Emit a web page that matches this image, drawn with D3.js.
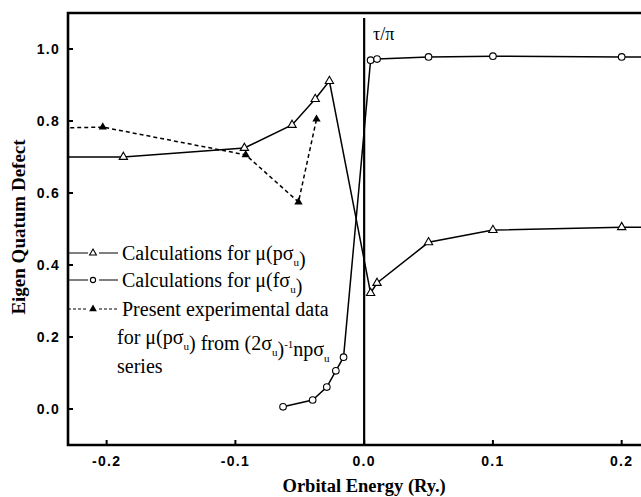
<!DOCTYPE html>
<meta charset="utf-8">
<html lang="en">
<head>
<meta charset="utf-8">
<title>Eigen Quantum Defect</title>
<script src="https://d3js.org/d3.v7.min.js"></script>
<style type="text/css">
body { margin: 0; background: #fff; }
.tick-label { font-family: "Liberation Sans", Arial, sans-serif; font-weight: bold; font-size: 14px; letter-spacing: 1.3px; }
text.serif { font-family: "Liberation Serif", "DejaVu Serif", "Times New Roman", serif; }
.frame { stroke: #000; stroke-width: 2.6px; fill: none; }
.series { fill: none; stroke: #000; stroke-width: 1.5px; }
</style>
</head>
<body>
<div id="chart"></div>
<script type="text/javascript">
"use strict";

// calculated mu(f sigma_u)
var fsigEnergy = [-0.063, -0.040, -0.029, -0.022, -0.016, 0.005, 0.010, 0.05, 0.1, 0.2, 0.3];
var fsigMu     = [0.006, 0.025, 0.061, 0.106, 0.144, 0.969, 0.972, 0.978, 0.980, 0.978, 0.978];

// calculated mu(p sigma_u)
var psigEnergy = [-0.25, -0.187, -0.093, -0.056, -0.038, -0.027, 0.005, 0.010, 0.05, 0.1, 0.2, 0.3];
var psigMu     = [0.70, 0.70, 0.725, 0.789, 0.861, 0.911, 0.322, 0.35, 0.463, 0.497, 0.505, 0.505];

// experimental mu(p sigma_u)
var expEnergy = [-0.25, -0.203, -0.092, -0.051, -0.037];
var expMu     = [0.78, 0.783, 0.706, 0.575, 0.805];

var xTicks = [-0.2, -0.1, 0.0, 0.1, 0.2];
var yTicks = [0.0, 0.2, 0.4, 0.6, 0.8, 1.0];

var width = 641, height = 497;
var pLeft = 68, pRight = 641, pTop = 13, pBottom = 445;

var x = d3.scaleLinear().domain([-0.23, 0.215]).range([pLeft, pRight]);
var y = d3.scaleLinear().domain([-0.1, 1.1]).range([pBottom, pTop]);

var svg = d3.select("#chart").append("svg")
    .attr("width", width)
    .attr("height", height);

svg.append("defs").append("clipPath").attr("id", "plot")
  .append("rect").attr("x", pLeft).attr("y", pTop)
  .attr("width", pRight - pLeft).attr("height", pBottom - pTop);

function zip(a, b) { return a.map(function(d, i) { return [d, b[i]]; }); }

var line = d3.line().x(function(d) { return x(d[0]); }).y(function(d) { return y(d[1]); });
var tri = d3.symbol().type(d3.symbolTriangle).size(30);

var g = svg.append("g").attr("clip-path", "url(#plot)");

// zero energy marker
g.append("line")
  .attr("x1", x(0)).attr("x2", x(0))
  .attr("y1", 18).attr("y2", pBottom)
  .attr("stroke", "#000").attr("stroke-width", 2.2);

g.append("path").datum(zip(expEnergy, expMu))
  .attr("class", "series").attr("stroke-dasharray", "4,3").attr("d", line);
g.append("path").datum(zip(psigEnergy, psigMu))
  .attr("class", "series").attr("d", line);
g.append("path").datum(zip(fsigEnergy, fsigMu))
  .attr("class", "series").attr("d", line);

g.selectAll(".exp").data(zip(expEnergy, expMu)).enter().append("path")
  .attr("transform", function(d) { return "translate(" + x(d[0]) + "," + y(d[1]) + ")"; })
  .attr("d", tri).attr("fill", "#000");
g.selectAll(".psig").data(zip(psigEnergy, psigMu)).enter().append("path")
  .attr("transform", function(d) { return "translate(" + x(d[0]) + "," + y(d[1]) + ")"; })
  .attr("d", tri).attr("fill", "#fff").attr("stroke", "#000").attr("stroke-width", 1.1);
g.selectAll(".fsig").data(zip(fsigEnergy, fsigMu)).enter().append("circle")
  .attr("cx", function(d) { return x(d[0]); })
  .attr("cy", function(d) { return y(d[1]); })
  .attr("r", 3.3).attr("fill", "#fff").attr("stroke", "#000").attr("stroke-width", 1.1);

// frame
svg.append("path").attr("class", "frame")
  .attr("d", "M" + (pRight + 5) + "," + pTop + "H" + pLeft + "V" + pBottom + "H" + (pRight + 5));

// ticks, pointing inward
svg.selectAll(".xt").data(xTicks).enter().append("line")
  .attr("x1", x).attr("x2", x).attr("y1", pBottom).attr("y2", pBottom - 5)
  .attr("stroke", "#000").attr("stroke-width", 2);
svg.selectAll(".xl").data(xTicks).enter().append("text")
  .attr("class", "tick-label").attr("x", x).attr("y", 466)
  .attr("text-anchor", "middle")
  .text(function(d) { return d3.format(".1f")(d).replace("−", "-"); });

svg.selectAll(".yt").data(yTicks).enter().append("line")
  .attr("x1", pLeft).attr("x2", pLeft + 5).attr("y1", y).attr("y2", y)
  .attr("stroke", "#000").attr("stroke-width", 2);
svg.selectAll(".yl").data(yTicks).enter().append("text")
  .attr("class", "tick-label").attr("x", 60).attr("y", function(d) { return y(d) + 5; })
  .attr("text-anchor", "end")
  .text(function(d) { return d3.format(".1f")(d); });

// axis titles
svg.append("text").attr("class", "serif")
  .attr("x", x(0)).attr("y", 492).attr("text-anchor", "middle")
  .attr("font-size", 18.5).attr("font-weight", "bold")
  .text("Orbital Energy (Ry.)");
svg.append("text").attr("class", "serif")
  .attr("transform", "translate(25,227) rotate(-90)").attr("text-anchor", "middle")
  .attr("font-size", 19).attr("font-weight", "bold")
  .text("Eigen Quatum Defect");

svg.append("text").attr("class", "serif")
  .attr("x", 373).attr("y", 40).attr("font-size", 18)
  .text("τ/π");

// legend
var legRows = [253, 280, 309];
var leg = svg.append("g");
leg.append("line").attr("x1", pLeft).attr("x2", 88).attr("y1", legRows[0]).attr("y2", legRows[0]).attr("stroke", "#000");
leg.append("line").attr("x1", 99).attr("x2", 118).attr("y1", legRows[0]).attr("y2", legRows[0]).attr("stroke", "#000");
leg.append("path").attr("transform", "translate(93," + legRows[0] + ")").attr("d", d3.symbol().type(d3.symbolTriangle).size(20))
  .attr("fill", "#fff").attr("stroke", "#000").attr("stroke-width", 1.1);

leg.append("line").attr("x1", pLeft).attr("x2", 88).attr("y1", legRows[1]).attr("y2", legRows[1]).attr("stroke", "#000");
leg.append("line").attr("x1", 99).attr("x2", 118).attr("y1", legRows[1]).attr("y2", legRows[1]).attr("stroke", "#000");
leg.append("circle").attr("cx", 93).attr("cy", legRows[1]).attr("r", 2.6)
  .attr("fill", "#fff").attr("stroke", "#000").attr("stroke-width", 1.1);

leg.append("line").attr("x1", pLeft).attr("x2", 88).attr("y1", legRows[2]).attr("y2", legRows[2]).attr("stroke", "#000").attr("stroke-dasharray", "3,2");
leg.append("line").attr("x1", 99).attr("x2", 118).attr("y1", legRows[2]).attr("y2", legRows[2]).attr("stroke", "#000").attr("stroke-dasharray", "3,2");
leg.append("path").attr("transform", "translate(93," + legRows[2] + ")").attr("d", d3.symbol().type(d3.symbolTriangle).size(26))
  .attr("fill", "#000");

function sub(t, s) {
  t.append("tspan").attr("dy", 6).attr("font-size", 11).text(s);
  t.append("tspan").attr("dy", -6).text("");
}

var legSize = 20;
var t1 = leg.append("text").attr("class", "serif").attr("x", 122).attr("y", 260).attr("font-size", legSize);
t1.append("tspan").text("Calculations for μ(pσ");
sub(t1, "u");
t1.append("tspan").text(")");

var t2 = leg.append("text").attr("class", "serif").attr("x", 122).attr("y", 287).attr("font-size", legSize);
t2.append("tspan").text("Calculations for μ(fσ");
sub(t2, "u");
t2.append("tspan").text(")");

leg.append("text").attr("class", "serif").attr("x", 122).attr("y", 316).attr("font-size", legSize)
  .text("Present experimental data");

var t4 = leg.append("text").attr("class", "serif").attr("x", 117).attr("y", 344).attr("font-size", legSize);
t4.append("tspan").text("for μ(pσ");
sub(t4, "u");
t4.append("tspan").text(") from (2σ");
sub(t4, "u");
t4.append("tspan").text(")");
t4.append("tspan").attr("dy", -8).attr("font-size", 11).text("-1");
t4.append("tspan").attr("dy", 8).text("npσ");
sub(t4, "u");

leg.append("text").attr("class", "serif").attr("x", 117).attr("y", 373).attr("font-size", legSize)
  .text("series");
</script>
</body>
</html>
